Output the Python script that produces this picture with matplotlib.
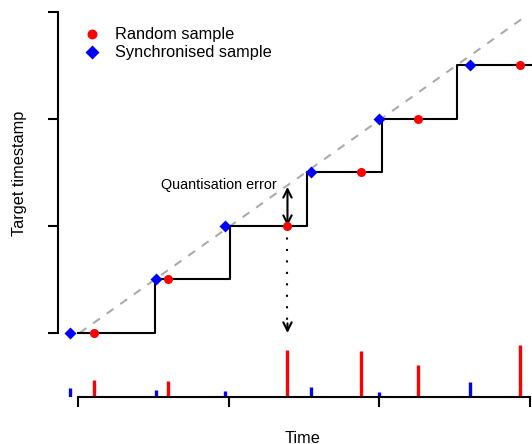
import numpy as np
import matplotlib
matplotlib.use("Agg")
import matplotlib.pyplot as plt

plt.rcParams['font.family'] = ['Liberation Sans', 'DejaVu Sans']

# ---------------- data ----------------
# quantised target timestamp (step function)
step_t = [0.0, 0.511, 1.009, 1.52, 2.017, 2.515, 3.05]
step_y = [0.0, 0.5, 1.0, 1.5, 2.0, 2.5, 2.5]
# ideal timestamp (diagonal)
diag_t = [0.01, 2.96]
diag_y = [0.0, 2.95]
# random samples
random_t = [0.108, 0.597, 1.39, 1.881, 2.254, 2.936]
random_y = [0.0, 0.5, 1.0, 1.5, 2.0, 2.5]
random_h = [0.17, 0.165, 0.475, 0.465, 0.32, 0.52]
# synchronised samples
sync_t = [-0.056, 0.518, 0.975, 1.543, 2.0, 2.599]
sync_y = [0.0, 0.5, 1.0, 1.5, 2.0, 2.5]
sync_h = [0.095, 0.07, 0.06, 0.10, 0.05, 0.155]
y_ticks = [0, 1, 2, 3]
x_ticks = [0, 1, 2, 3]
highlight = 2  # random sample used to illustrate the quantisation error
err_top = 1.365  # ideal timestamp at the highlighted sample

# ---------------- layout helpers ----------------
W, H = 532, 444
def rect(l, t, r, b):
    return [l / W, 1 - b / H, (r - l) / W, (b - t) / H]

t0px, sx = 78.0, 150.7
xlim = ((58 - t0px) / sx, (532 - t0px) / sx)

fig = plt.figure(figsize=(W / 100, H / 100), dpi=100)

RED = '#FF0000'
BLUE = '#0000FF'
LW = 1.5

# ---------------- top panel ----------------
y0px, sy = 333.0, 107.0
ax = fig.add_axes(rect(58, 6, 532, 345))
ax.set_xlim(*xlim)
ax.set_ylim((y0px - 345) / sy, (y0px - 6) / sy)

ax.plot(diag_t, diag_y, color='#ABABAB', lw=LW, linestyle=(0, (4, 4)), clip_on=False, zorder=1)
ax.plot(step_t, step_y, drawstyle='steps-post', color='black', lw=LW, clip_on=False, zorder=2)
ax.plot(random_t, random_y, 'o', color=RED, ms=6.5, mec='none', clip_on=False, zorder=4,
        label='Random sample')
ax.plot(sync_t, sync_y, 'D', color=BLUE, ms=6.3, mec='none', clip_on=False, zorder=4,
        label='Synchronised sample')

# quantisation error illustration
tr = random_t[highlight]
lev = random_y[highlight]
head = 'head_length=0.6,head_width=0.3'
ax.annotate('', xy=(tr, err_top), xytext=(tr, lev),
            arrowprops=dict(arrowstyle='<->,' + head,
                            color='black', lw=LW, shrinkA=0, shrinkB=0,
                            mutation_scale=10), zorder=3)
# dotted drop line with a solid arrow head
ax.plot([tr, tr], [lev, 0.03], color='black', lw=LW, linestyle=(0, (1, 4.5)), zorder=3)
ax.annotate('', xy=(tr, 0.0), xytext=(tr, 0.09),
            arrowprops=dict(arrowstyle='->,' + head,
                            color='black', lw=LW, shrinkA=0, shrinkB=0,
                            mutation_scale=10), zorder=3)
ax.text(tr - 0.07, 1.383, 'Quantisation error', ha='right', va='center', fontsize=10.4)

for s in ['top', 'right', 'bottom']:
    ax.spines[s].set_visible(False)
ax.spines['left'].set_bounds(y_ticks[0], y_ticks[-1])
ax.spines['left'].set_linewidth(LW)
ax.set_xticks([])
ax.set_yticks(y_ticks)
ax.set_yticklabels([])
ax.tick_params(axis='y', direction='out', length=7.2, width=LW)
ax.set_ylabel('Target timestamp', fontsize=11.8, ha='center', va='center')
ax.yaxis.set_label_coords((19.5 - 58) / (532 - 58), (345 - 173) / (345 - 6))
ax.patch.set_alpha(0)

leg = ax.legend(loc='upper left', bbox_to_anchor=(83.5 / W, 1 - 27.5 / H),
                bbox_transform=fig.transFigure, frameon=False, fontsize=11.8,
                handlelength=1.0, handletextpad=0.9, borderpad=0, borderaxespad=0,
                labelspacing=0.17, numpoints=1, markerscale=1.1)

# ---------------- bottom panel ----------------
bx = fig.add_axes(rect(58, 330, 532, 397))
bx.set_xlim(*xlim)
bx.set_ylim(0, 0.67)
bx.vlines(random_t, 0, random_h, color=RED, lw=2.4, capstyle='butt')
bx.vlines(sync_t, 0, sync_h, color=BLUE, lw=2.4, capstyle='butt')
for s in ['top', 'right', 'left']:
    bx.spines[s].set_visible(False)
bx.spines['bottom'].set_bounds(x_ticks[0], x_ticks[-1])
bx.spines['bottom'].set_linewidth(LW)
bx.set_yticks([])
bx.set_xticks(x_ticks)
bx.set_xticklabels([])
bx.tick_params(axis='x', direction='out', length=7.2, width=LW)
bx.set_xlabel('Time', fontsize=11.8, va='center')
bx.xaxis.set_label_coords((303 - 58) / (532 - 58), -(438 - 397) / (397 - 330))
bx.patch.set_alpha(0)

fig.savefig('out.png', dpi=100)
